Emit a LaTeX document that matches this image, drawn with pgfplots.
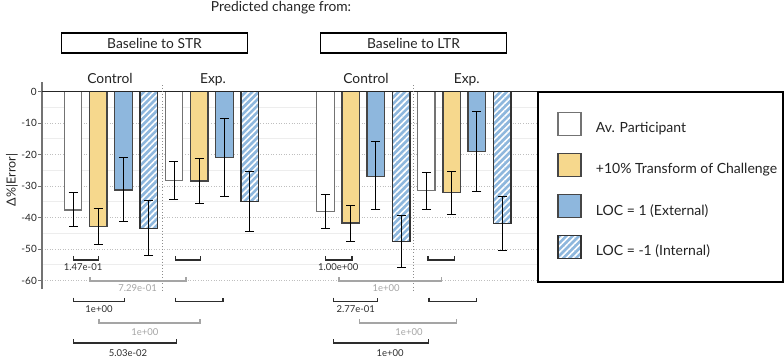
\documentclass[border=0pt]{standalone}
\usepackage{pgfplots}
\pgfplotsset{compat=1.18}
\usepackage{pgfplotstable}
\usepackage{fontspec}
\setmainfont{Lato}
\usetikzlibrary{patterns.meta}

\definecolor{barYellow}{RGB}{246,216,141}
\definecolor{barBlue}{RGB}{142,183,221}
\definecolor{edgeDark}{RGB}{70,70,70}
\definecolor{edgeGray}{RGB}{115,115,115}
\definecolor{sigDark}{RGB}{45,45,45}
\definecolor{sigGray}{RGB}{165,165,165}
\definecolor{txtDark}{RGB}{35,35,35}

% x: bar slot, y: predicted change, ep/em: upper/lower error
\pgfplotstableread{
x   y      ep    em
0   -37.6  5.5   5.3
4   -28.3  6.2   6.1
10  -38.0  5.3   5.4
14  -31.5  5.9   5.8
}\avgtab
\pgfplotstableread{
x   y      ep    em
1   -42.9  5.7   5.6
5   -28.4  7.1   7.1
11  -41.8  5.7   5.7
15  -32.1  6.8   6.9
}\transtab
\pgfplotstableread{
x   y      ep    em
2   -31.3  10.3  10.1
6   -20.9  12.4  12.5
12  -26.9  10.9  10.7
16  -19.0  12.6  12.6
}\exttab
\pgfplotstableread{
x   y      ep    em
3   -43.4  8.9   8.7
7   -34.9  9.5   9.6
13  -47.6  8.1   8.1
17  -42.0  8.6   8.6
}\inttab

% significance bracket: x1, x2, level, colour
\newcommand\sigbracket[4]{%
  \draw[#4, line width=1.4pt]
    (axis cs:#1,#3+1.3) -- (axis cs:#1,#3) -- (axis cs:#2,#3) -- (axis cs:#2,#3+1.3);}

\begin{document}
\begin{tikzpicture}
\useasboundingbox (0pt,0pt) rectangle (784pt,360pt);
\begin{axis}[
  at={(42pt,71pt)}, anchor=south west,
  scale only axis, width=495pt, height=207pt,
  xmin=-1.228, xmax=18.38, ymin=-62.70, ymax=3.02,
  clip=false,
  axis x line=none, axis y line*=left,
  y axis line style={draw=edgeGray, line width=1.2pt},
  xtick=\empty,
  ytick={-60,-50,...,0},
  minor ytick={-55,-45,...,-5},
  tick align=outside, major tick length=3.5pt, minor tick length=0pt,
  ytick style={draw=edgeGray, line width=1pt},
  yticklabel style={font=\fontsize{10}{12}\selectfont, text=txtDark, inner xsep=1.5pt},
  /pgf/number format/assume math mode=true,
  ymajorgrids, yminorgrids,
  major grid style={draw=black!25, line width=0.8pt, dash pattern=on 0.8pt off 1.8pt},
  minor grid style={draw=black!7, line width=0.6pt},
  ybar, bar width=17.5pt,
  error bars/y dir=both, error bars/y explicit,
  error bars/error bar style={line width=0.9pt, draw=black},
  error bars/error mark options={rotate=90, mark size=4.5pt, line width=0.9pt, draw=black},
  legend cell align=left,
  legend image code/.code={
    \path (-14pt,-10.5pt);
    \draw[#1, line width=1.5pt] (0pt,-7pt) rectangle (23pt,16pt);
  },
  legend style={
    at={(1,0.958)}, anchor=north west,
    draw=black, line width=2pt,
    inner xsep=5.5pt, inner ysep=20pt,
    row sep=13pt, column sep=14pt,
    font=\fontsize{14}{16}\selectfont, text=txtDark,
    nodes={inner sep=0pt},
  },
]
\addplot[fill=white, draw=edgeGray, line width=1.4pt, bar shift=0pt]
  table[x=x, y=y, y error plus=ep, y error minus=em] {\avgtab};
\addlegendentry{Av. Participant}
\addplot[fill=barYellow, draw=edgeDark, line width=1.4pt, bar shift=0pt]
  table[x=x, y=y, y error plus=ep, y error minus=em] {\transtab};
\addlegendentry{+10\% Transform of Challenge}
\addplot[fill=barBlue, draw=edgeDark, line width=1.4pt, bar shift=0pt]
  table[x=x, y=y, y error plus=ep, y error minus=em] {\exttab};
\addlegendentry{LOC = 1 (External)}
\addplot[fill=barBlue, draw=black!80, line width=1.3pt, bar shift=0pt,
  postaction={pattern={Lines[angle=45, distance=4.5pt, line width=1.6pt]}, pattern color=white}]
  table[x=x, y=y, y error plus=ep, y error minus=em] {\inttab};
\addlegendentry{LOC = -1 (Internal)}

% zero line and group separators
\draw[black!85, line width=1.5pt] (axis cs:-1.228,0) -- (axis cs:18.38,0);
\draw[black!45, line width=1pt, dash pattern=on 0.9pt off 2.2pt] (axis cs:3.53,2.06) -- (axis cs:3.53,-63);
\draw[black!45, line width=1pt, dash pattern=on 0.9pt off 2.2pt] (axis cs:13.5,2.06) -- (axis cs:13.5,-63);

% pairwise comparisons, STR
\sigbracket{0.03}{1.02}{-53.5}{sigDark}
\sigbracket{4.07}{5.04}{-53.5}{sigDark}
\sigbracket{0.67}{4.48}{-60.2}{sigGray}
\sigbracket{0.03}{2.03}{-66.7}{sigDark}
\sigbracket{4.07}{5.94}{-66.7}{sigDark}
\sigbracket{1.03}{5.03}{-73.5}{sigGray}
\sigbracket{0.03}{4.09}{-79.9}{sigDark}
% pairwise comparisons, LTR
\sigbracket{10.0}{11.05}{-53.5}{sigDark}
\sigbracket{14.07}{15.11}{-53.5}{sigDark}
\sigbracket{10.53}{14.59}{-60.2}{sigGray}
\sigbracket{10.31}{12.07}{-66.7}{sigDark}
\sigbracket{14.10}{15.98}{-66.7}{sigDark}
\sigbracket{11.36}{15.2}{-73.5}{sigGray}
\sigbracket{10.31}{14.09}{-79.9}{sigDark}

\begin{scope}[every node/.style={font=\fontsize{9.5}{11}\selectfont, inner sep=0pt}]
\node[text=sigDark] at (axis cs:0.40,-55.8) {1.47e-01};
\node[text=sigGray] at (axis cs:2.56,-62.4) {7.29e-01};
\node[text=sigDark] at (axis cs:1.03,-69.1) {1e+00};
\node[text=sigGray] at (axis cs:2.85,-76.4) {1e+00};
\node[text=sigDark] at (axis cs:2.18,-83.1) {5.03e-02};
\node[text=sigDark] at (axis cs:10.51,-55.8) {1.00e+00};
\node[text=sigGray] at (axis cs:12.40,-62.4) {1e+00};
\node[text=sigDark] at (axis cs:11.2,-69.1) {2.77e-01};
\node[text=sigGray] at (axis cs:13.31,-76.4) {1e+00};
\node[text=sigDark] at (axis cs:12.56,-83.1) {1e+00};
\end{scope}
\end{axis}

% titles and panel headers
\node[anchor=base, text=txtDark, font=\fontsize{13.8}{16}\selectfont] at (281pt,349pt) {Predicted change from:};
\node[draw=black, line width=1.7pt, minimum width=186pt, minimum height=20pt,
      font=\fontsize{13.8}{16}\selectfont, text=txtDark] at (154.5pt,317pt) {Baseline to STR};
\node[draw=black, line width=1.7pt, minimum width=186pt, minimum height=20pt,
      font=\fontsize{13.8}{16}\selectfont, text=txtDark] at (413.5pt,317pt) {Baseline to LTR};
\begin{scope}[every node/.style={anchor=base, text=txtDark, font=\fontsize{13.8}{16}\selectfont}]
\node at (110pt,276.7pt) {Control};
\node at (213pt,276.7pt) {Exp.};
\node at (366pt,276.7pt) {Control};
\node at (466.7pt,276.7pt) {Exp.};
\end{scope}
\node[rotate=90, text=txtDark, font=\fontsize{12.5}{14}\selectfont] at (12pt,180pt) {Δ\%|Error|};
\end{tikzpicture}
\end{document}
